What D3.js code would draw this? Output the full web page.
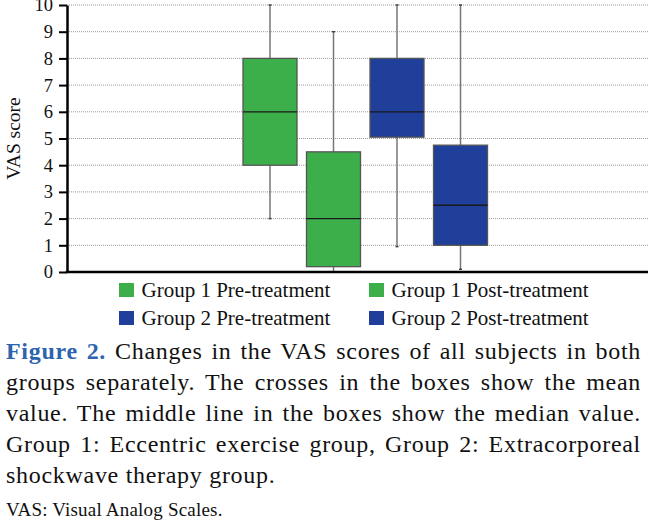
<!DOCTYPE html>
<html>
<head>
<meta charset="utf-8">
<script src="https://cdn.jsdelivr.net/npm/d3@7"></script>
<style>
  body { margin: 0; background: #fff; }
  svg { display: block; font-family: "Liberation Serif", "DejaVu Serif", serif; }
</style>
</head>
<body>
<div id="chart"></div>
<script>
// box plot summary values
const categories = ["Group 1 Pre-treatment", "Group 1 Post-treatment", "Group 2 Pre-treatment", "Group 2 Post-treatment"];
const mins    = [2, 0, 0.95, 0.1];
const q1s     = [4, 0.2, 5.05, 1];
const medians = [6, 2, 6, 2.5];
const q3s     = [8, 4.5, 8, 4.75];
const maxs    = [10, 9, 10, 10];
const yTicks  = [0, 1, 2, 3, 4, 5, 6, 7, 8, 9, 10];

const captionLines = [
  "Changes in the VAS scores of all subjects in both",
  "groups separately. The crosses in the boxes show the mean",
  "value. The middle line in the boxes show the median value.",
  "Group 1: Eccentric exercise group, Group 2: Extracorporeal",
  "shockwave therapy group."
];
const footnote = "VAS: Visual Analog Scales.";

const colors = ["#3daf4a", "#3daf4a", "#1f3f9a", "#1f3f9a"];

const W = 648, H = 521;
const margin = {top: 5, right: 0, bottom: 249, left: 67},
    width = W - margin.left - margin.right,
    height = H - margin.top - margin.bottom;

const root = d3.select("#chart")
  .append("svg")
    .attr("width", W)
    .attr("height", H);

const svg = root.append("g")
    .attr("transform", "translate(" + margin.left + "," + margin.top + ")");

const data = categories.map(function (c, i) {
  return {cat: c, min: mins[i], q1: q1s[i], med: medians[i], q3: q3s[i], max: maxs[i], color: colors[i]};
});

// scales
const y = d3.scaleLinear().domain([0, 10]).range([height, 0]);
const x = d3.scalePoint().domain(categories).range([width * 0.3494, width * 0.6773]);
const boxW = 54;

// dotted grid lines
svg.append("g")
  .selectAll("line")
  .data(yTicks.filter(function (d) { return d > 0; }))
  .enter()
  .append("line")
    .attr("x1", 0)
    .attr("x2", width)
    .attr("y1", function (d) { return y(d); })
    .attr("y2", function (d) { return y(d); })
    .attr("stroke", "#9a9a9a")
    .attr("stroke-width", 1)
    .attr("stroke-dasharray", "1,1");

// whiskers
const boxes = svg.append("g")
  .selectAll("g")
  .data(data)
  .enter()
  .append("g");

boxes.append("line")
    .attr("x1", function (d) { return x(d.cat); })
    .attr("x2", function (d) { return x(d.cat); })
    .attr("y1", function (d) { return y(d.min); })
    .attr("y2", function (d) { return y(d.max); })
    .attr("stroke", "#777")
    .attr("stroke-width", 1.5);

// whisker caps
boxes.selectAll(".cap")
  .data(function (d) { return [d.min, d.max].map(function (v) { return {cat: d.cat, v: v}; }); })
  .enter()
  .append("line")
    .attr("class", "cap")
    .attr("x1", function (d) { return x(d.cat) - 1.5; })
    .attr("x2", function (d) { return x(d.cat) + 1.5; })
    .attr("y1", function (d) { return y(d.v); })
    .attr("y2", function (d) { return y(d.v); })
    .attr("stroke", "#444")
    .attr("stroke-width", 1.5);

// boxes
boxes.append("rect")
    .attr("x", function (d) { return x(d.cat) - boxW / 2; })
    .attr("y", function (d) { return y(d.q3); })
    .attr("width", boxW)
    .attr("height", function (d) { return y(d.q1) - y(d.q3); })
    .attr("fill", function (d) { return d.color; })
    .attr("stroke", "#555")
    .attr("stroke-width", 1.3);

// medians
boxes.append("line")
    .attr("x1", function (d) { return x(d.cat) - boxW / 2; })
    .attr("x2", function (d) { return x(d.cat) + boxW / 2; })
    .attr("y1", function (d) { return y(d.med); })
    .attr("y2", function (d) { return y(d.med); })
    .attr("stroke", "#1a1a1a")
    .attr("stroke-width", 1.3);

// y axis
const yAxis = svg.append("g")
  .call(d3.axisLeft(y).tickValues(yTicks).tickSize(8).tickPadding(6).tickSizeOuter(0));
yAxis.select(".domain").attr("stroke", "#000").attr("stroke-width", 2.5);
yAxis.selectAll(".tick line").attr("stroke", "#000").attr("stroke-width", 2);
yAxis.selectAll(".tick text")
    .attr("font-family", "Liberation Serif, serif")
    .attr("font-size", 18.5)
    .attr("fill", "#111");

// x axis line
svg.append("line")
    .attr("x1", -1.25)
    .attr("x2", width)
    .attr("y1", height)
    .attr("y2", height)
    .attr("stroke", "#000")
    .attr("stroke-width", 2.5);

// y axis title
root.append("text")
    .attr("transform", "translate(20," + (margin.top + y(5)) + ") rotate(-90)")
    .attr("text-anchor", "middle")
    .attr("font-size", 19.5)
    .attr("fill", "#111")
    .text("VAS score");

// legend
const legend = root.append("g")
  .selectAll("g")
  .data(data)
  .enter()
  .append("g")
    .attr("transform", function (d, i) {
      return "translate(" + (119 + (i % 2) * 250) + "," + (283 + Math.floor(i / 2) * 28) + ")";
    });

legend.append("rect")
    .attr("width", 15)
    .attr("height", 14)
    .attr("fill", function (d) { return d.color; });

legend.append("text")
    .attr("x", 22.5)
    .attr("y", 14)
    .attr("font-size", 21)
    .attr("fill", "#111")
    .text(function (d) { return d.cat; });

// caption, justified lines
const capLeft = 6, capRight = 641;
captionLines.forEach(function (line, i) {
  const t = root.append("text")
      .attr("x", capLeft)
      .attr("y", 359 + i * 31)
      .attr("font-size", 24)
      .attr("letter-spacing", 0.7)
      .attr("fill", "#111");
  if (i === 0) {
    t.append("tspan")
        .attr("font-weight", "bold")
        .attr("fill", "#2d64b0")
        .text("Figure 2. ");
  }
  t.append("tspan").text(line);
  if (i < captionLines.length - 1) {
    const natural = t.node().getComputedTextLength();
    const full = (i === 0 ? "Figure 2. " : "") + line;
    const spaces = full.trim().split(" ").length - 1;
    t.attr("word-spacing", Math.max(0, (capRight - capLeft - natural) / spaces));
  }
});

root.append("text")
    .attr("x", capLeft)
    .attr("y", 516)
    .attr("font-size", 19)
    .attr("letter-spacing", 0.2)
    .attr("fill", "#111")
    .text(footnote);
</script>
</body>
</html>
